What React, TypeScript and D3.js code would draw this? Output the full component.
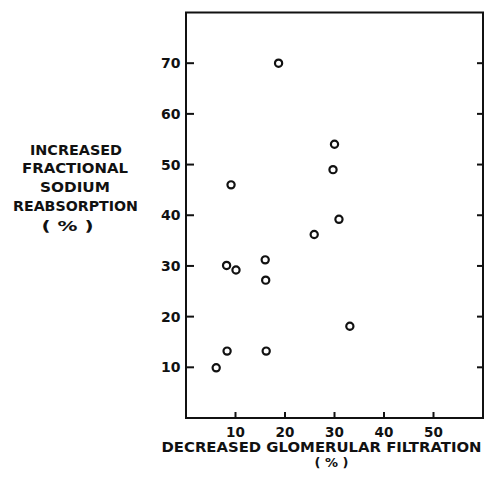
import React, { useEffect, useRef } from "react";
import * as d3 from "d3";

const gfrDecrease = [18.7, 30.0, 29.7, 9.1, 30.9, 25.9, 16.0, 8.2, 10.1, 16.1, 33.1, 8.3, 16.2, 6.1];
const naReabsorption = [70, 54, 49, 46, 39.2, 36.2, 31.2, 30.1, 29.2, 27.2, 18.1, 13.2, 13.2, 9.9];
const xTicks = [10, 20, 30, 40, 50];
const yTicks = [10, 20, 30, 40, 50, 60, 70];
const xTickLabels = ["10", "20", "30", "40", "50"];
const yTickLabels = ["10", "20", "30", "40", "50", "60", "70"];
const yTitleLines = ["INCREASED", "FRACTIONAL", "SODIUM", "REABSORPTION", "( % )"];
const xTitleLines = ["DECREASED GLOMERULAR FILTRATION", "( % )"];

const W = 495;
const H = 482;
const FONT = "'DejaVu Sans', 'Liberation Sans', sans-serif";

export default function App() {
  const ref = useRef<SVGSVGElement>(null);

  useEffect(() => {
    const svg = d3.select(ref.current);
    svg.selectAll("*").remove();

    const left = 186, right = 483, top = 12.5, bottom = 418;
    const x = d3.scaleLinear().domain([0, 60]).range([left, right]);
    const y = d3.scaleLinear().domain([0, 80]).range([bottom, top]);

    // frame
    svg.append("rect")
      .attr("x", left).attr("y", top)
      .attr("width", right - left).attr("height", bottom - top)
      .attr("fill", "none").attr("stroke", "#111").attr("stroke-width", 2);

    // y ticks (left and right, inward)
    const yt = svg.append("g");
    yTicks.forEach((t, i) => {
      yt.append("line").attr("x1", left).attr("x2", left + 8)
        .attr("y1", y(t)).attr("y2", y(t)).attr("stroke", "#111").attr("stroke-width", 2);
      yt.append("line").attr("x1", right).attr("x2", right - 6)
        .attr("y1", y(t)).attr("y2", y(t)).attr("stroke", "#111").attr("stroke-width", 2);
      yt.append("text").attr("x", 180.5).attr("y", y(t) + 5)
        .attr("text-anchor", "end").attr("font-family", FONT).attr("font-weight", "bold")
        .attr("font-size", 14).attr("fill", "#111").text(yTickLabels[i]);
    });

    // x ticks (bottom, inward)
    const xt = svg.append("g");
    xTicks.forEach((t, i) => {
      xt.append("line").attr("x1", x(t)).attr("x2", x(t))
        .attr("y1", bottom).attr("y2", bottom - 6).attr("stroke", "#111").attr("stroke-width", 2);
      xt.append("text").attr("x", x(t)).attr("y", 436.5)
        .attr("text-anchor", "middle").attr("font-family", FONT).attr("font-weight", "bold")
        .attr("font-size", 13.5).attr("fill", "#111").text(xTickLabels[i]);
    });

    // points
    svg.append("g").selectAll("circle")
      .data(gfrDecrease.map((v, i) => [v, naReabsorption[i]]))
      .join("circle")
      .attr("cx", (d) => x(d[0])).attr("cy", (d) => y(d[1]))
      .attr("r", 3.6).attr("fill", "none").attr("stroke", "#111").attr("stroke-width", 2.2);

    // x title
    svg.append("text").attr("x", 321.5).attr("y", 451.5)
      .attr("text-anchor", "middle").attr("font-family", FONT).attr("font-weight", "bold")
      .attr("font-size", 13.5).attr("fill", "#111")
      .attr("textLength", 320).attr("lengthAdjust", "spacingAndGlyphs")
      .text(xTitleLines[0]);
    svg.append("text").attr("x", 331.5).attr("y", 467)
      .attr("text-anchor", "middle").attr("font-family", FONT).attr("font-weight", "bold")
      .attr("font-size", 13).attr("fill", "#111")
      .text(xTitleLines[1]);

    // y title
    const baselines = [155, 173, 192, 211, 231];
    const widths = [92, 106, 70, 125, 52];
    const centers = [76, 75, 75, 75.5, 67.5];
    yTitleLines.forEach((s, i) => {
      svg.append("text").attr("x", centers[i]).attr("y", baselines[i])
        .attr("text-anchor", "middle").attr("font-family", FONT).attr("font-weight", "bold")
        .attr("font-size", 14).attr("fill", "#111")
        .attr("textLength", widths[i]).attr("lengthAdjust", "spacingAndGlyphs")
        .text(s);
    });
  }, []);

  return (
    <svg
      ref={ref}
      width={W}
      height={H}
      style={{ position: "absolute", left: 0, top: 0, background: "#fff" }}
    />
  );
}
